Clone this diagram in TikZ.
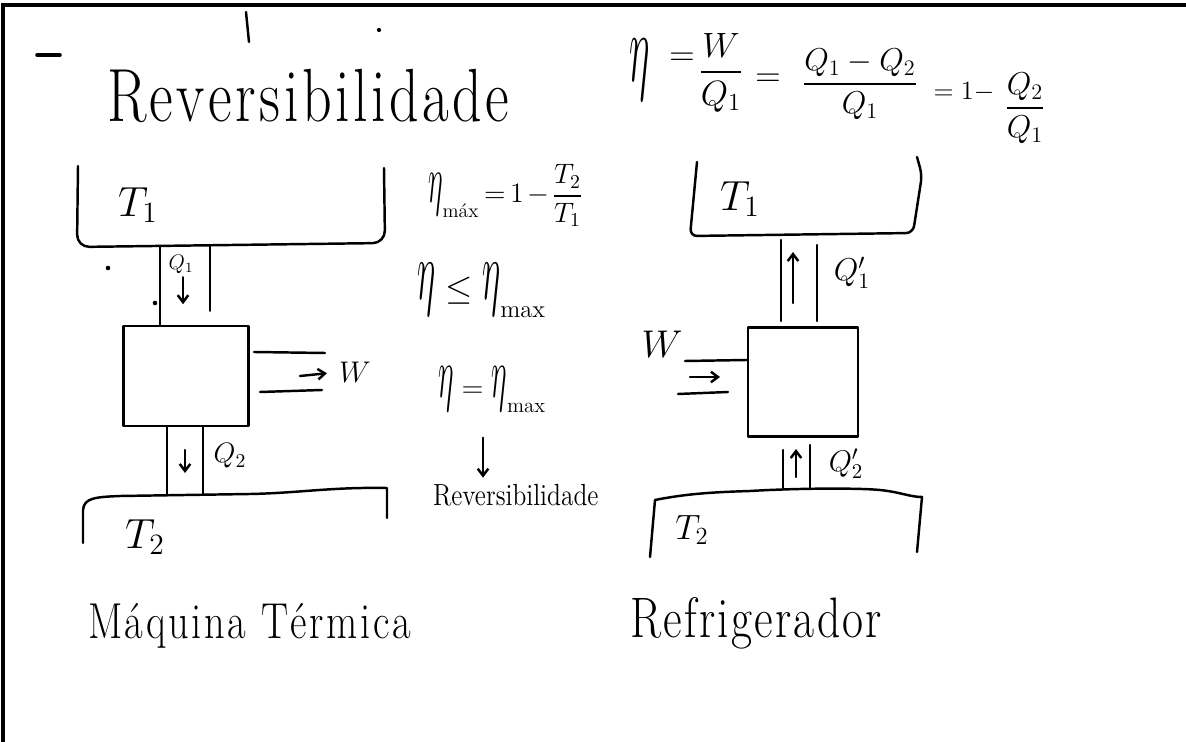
\RequirePackage{fix-cm}
\documentclass[tikz,border=0pt]{standalone}
\usepackage{amsmath}
\usepackage{graphicx}
\usepackage{fontspec}
\usetikzlibrary{arrows.meta}
\newcommand{\fs}[1]{\fontsize{#1}{#1}\selectfont}
\newcommand{\heta}{\mathord{\scalebox{1}[2.4]{$\eta$}}}
\ExplSyntaxOn
\NewDocumentCommand\spaced{mm}{\tl_map_inline:nn {#2} {##1\kern#1}}
\ExplSyntaxOff
\tikzset{
  pen/.style={line width=1.4pt, line cap=round, line join=round},
  frame/.style={line width=2.2pt},
  harrow/.style={pen, -{Straight Barb[length=4pt,width=6pt]}},
  lbl/.style={inner sep=0pt, outer sep=0pt},
  box/.style={pen, draw, inner sep=0pt, rectangle},
}
\begin{document}
\begin{tikzpicture}[x=0.02cm,y=-0.02cm]
\useasboundingbox (0,0) rectangle (1186,742);
\fill[white] (0,0) rectangle (1186,742);
\draw[frame] (3,742) -- (3,5) -- (1186,5);

% title
\draw[pen, line width=2pt] (37,55) -- (60,55);
\node[lbl, anchor=base west] (title) at (107,122) {\fs{33}\scalebox{1}[1.3]{\spaced{2pt}{Reversibilidade}}};
\draw[pen] (246,12) -- (249,42);
\fill (379,30) circle[radius=1.2pt];

% top formula
\node[lbl, anchor=base] (eta0) at (640,82) {\fs{28}\scalebox{0.8}[2]{$\eta$}};
\node[lbl, anchor=base] (eq0) at (682,66) {\fs{20}$=$};
\node[lbl, anchor=base] (fr1) at (721,81) {\fs{20}$\dfrac{W}{Q_1}$};
\node[lbl, anchor=base] (eq1) at (768,87) {\fs{20}$=$};
\node[lbl, anchor=base] (fr2) at (860,92) {\fs{18}$\dfrac{Q_1-Q_2}{Q_1}$};
\node[lbl, anchor=base] (eq2) at (964,100) {\fs{15}$=1-$};
\node[lbl, anchor=base] (fr3) at (1025,116) {\fs{18}$\dfrac{Q_2}{Q_1}$};

% middle formulas
\node[lbl, anchor=base west] (etamax) at (428,203) {\fs{16}\thickmuskip=3mu\medmuskip=2mu$\heta_{\text{máx}} = 1 - \dfrac{T_2}{T_1}$};
\node[lbl, anchor=base west] (ineq) at (417,300) {\fs{20}$\heta \le \heta_{\text{max}}$};
\node[lbl, anchor=base west] (eqmax) at (438,398) {\fs{17}$\heta = \heta_{\text{max}}$};
\node[lbl, anchor=base west] (rev) at (433,506) {\fs{14.5}\scalebox{1}[1.2]{Reversibilidade}};
\coordinate (ax) at (483,0);
\draw[harrow, shorten <=14pt, shorten >=4pt] (eqmax.south -| ax) -- (rev.north -| ax);

% ---------- Maquina termica ----------
\draw[pen, rounded corners=7] (78,166) -- (77,247) -- (385,243) -- (384,168);
\node[lbl] (LT1) at (138,205) {\fs{24}$T_1$};
\node[box, minimum width=2.5cm, minimum height=2cm] (engL) at (186,376) {};
\draw[pen] (160,247) -- (160,0 |- engL.north);
\draw[pen, shorten >=8pt] (210,245) -- (210,0 |- engL.north);
\node[lbl] (LQ1) at (181,264) {\fs{12}$Q_1$};
\draw[harrow] (LQ1.south) ++(2,4) -- ++(0,27);
\fill (108,268) circle[radius=1.3pt];
\fill (155,303) circle[radius=1.3pt];
\draw[pen] (254,352) -- (325,353);
\draw[pen] (260,392) -- (322,390);
\node[lbl] (LW) at (355,372) {\fs{17}$W$};
\draw[harrow, shorten >=7pt] (300,376) -- (LW.west);
\draw[pen] (167,0 |- engL.south) -- (167,495);
\draw[pen] (203,0 |- engL.south) -- (203,494);
\draw[harrow] (185,450) -- (185,473);
\node[lbl] (LQ2) at (230,456) {\fs{16}$Q_2$};
\draw[pen] (83,543) -- (83,510) .. controls (84,498) and (95,497) .. (120,496) -- (250,494) .. controls (300,493) and (330,487) .. (387,488) -- (387,518);
\node[lbl] (LT2) at (145,537) {\fs{24}$T_2$};

% ---------- Refrigerador ----------
\draw[pen, rounded corners=4] (697,162) -- (690,236) -- (913,233) -- (922,175) -- (917,157);
\node[lbl] (RT1) at (740,199) {\fs{24}$T_1$};
\node[box, minimum width=2.2cm, minimum height=2.18cm] (engR) at (803,382) {};
\draw[pen, shorten >=3pt] (781,240) -- (781,0 |- engR.north);
\draw[pen, shorten >=3pt] (817,245) -- (817,0 |- engR.north);
\draw[harrow] (793,303) -- (793,252);
\node[lbl] (RQ1) at (852,273) {\fs{18}$Q'_1$};
\node[lbl] (RW) at (662,344) {\fs{22}$W$};
\draw[pen] (685,361) -- (engR.west |- 0,360);
\draw[harrow] (690,377) -- (720,377);
\draw[pen] (678,394) -- (728,392);
\draw[pen] (783,450) -- (783,488);
\draw[pen] (810,445) -- (810,488);
\draw[harrow] (796,477) -- (796,449);
\node[lbl] (RQ2) at (846,464) {\fs{17}$Q'_2$};
\draw[pen] (650,557) -- (655,500) .. controls (690,493) and (720,492) .. (750,491) .. controls (800,488) and (860,488) .. (880,490) .. controls (900,492) and (910,497) .. (922,497) -- (917,552);
\node[lbl] (RT2) at (692,530) {\fs{20}$T_2$};

% bottom labels
\node[lbl, anchor=base west] (mt) at (88,638) {\fs{23}\scalebox{1}[1.25]{\spaced{1.5pt}{Máquina} \spaced{1.5pt}{Térmica}}};
\node[lbl, anchor=base west] (rf) at (630,637) {\fs{26}\scalebox{1}[1.25]{\spaced{1.3pt}{Refrigerador}}};
\end{tikzpicture}
\end{document}
